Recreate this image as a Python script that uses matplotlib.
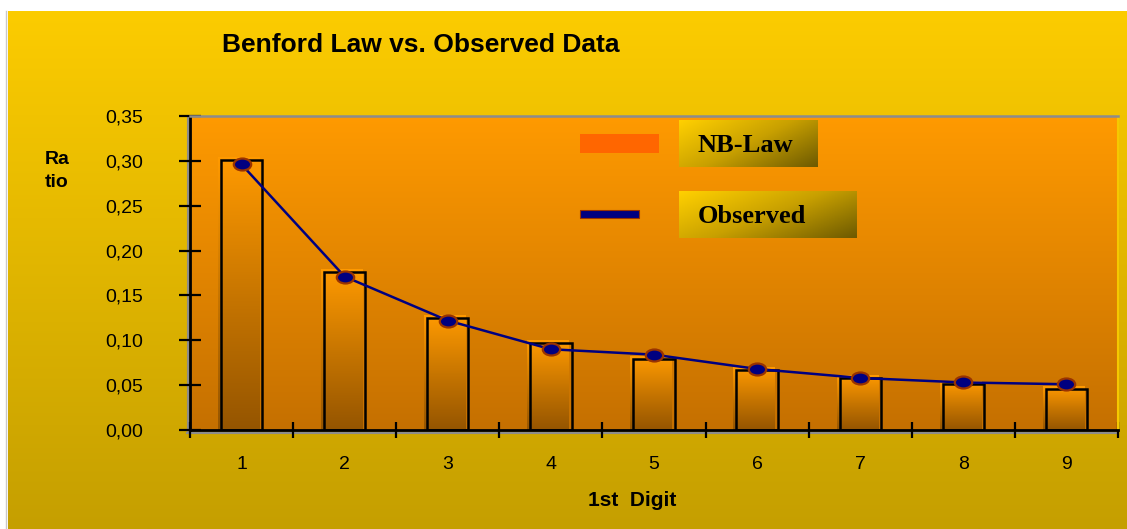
import numpy as np
import matplotlib
matplotlib.use('Agg')
import matplotlib.pyplot as plt
from matplotlib.colors import LinearSegmentedColormap
from matplotlib.patches import Rectangle
from matplotlib.path import Path
from matplotlib.ticker import FuncFormatter, FixedLocator

# data
digits = ['1', '2', '3', '4', '5', '6', '7', '8', '9']
nb_law = [0.301, 0.176, 0.125, 0.097, 0.079, 0.067, 0.058, 0.051, 0.046]
observed = [0.296, 0.171, 0.122, 0.090, 0.084, 0.068, 0.058, 0.053, 0.051]
y_ticks = [0.0, 0.05, 0.10, 0.15, 0.20, 0.25, 0.30, 0.35]

W, H = 1127, 529
fig = plt.figure(figsize=(W / 100, H / 100), dpi=100, facecolor='white')

# yellow gradient background of the chart area
bg = fig.add_axes([0, 0, 1, 1], zorder=0)
bg.set_xlim(0, W)
bg.set_ylim(H, 0)
bg.axis('off')
cm_bg = LinearSegmentedColormap.from_list('bg', ['#fccc00', '#c59f00'])
bg.imshow(np.linspace(0, 1, 256).reshape(-1, 1), cmap=cm_bg, aspect='auto',
          origin='upper', extent=[8, W, H, 11], zorder=0)
bg.plot([6, 6], [11, H], color='#c8c8c8', lw=1)
# grey shadow along the axis lines
bg.plot([187.5, 187.5], [116, 432], color='#8c8c8c', lw=1.5)
bg.plot([187, 1118], [432.5, 432.5], color='#8c8c8c', lw=1.5)

# plot area
ax = fig.add_axes([190 / W, 1 - 430 / H, 928 / W, 314 / H], zorder=2)
ax.set_facecolor('none')
cm_plot = LinearSegmentedColormap.from_list('plot', ['#c57000', '#ff9a00'])
ax.imshow(np.linspace(0, 1, 256).reshape(-1, 1), cmap=cm_plot, aspect='auto',
          origin='lower', extent=[-0.5, 8.5, 0, 0.35], zorder=0)

cm_bar = LinearSegmentedColormap.from_list('bar', ['#955500', '#c87600', '#ff9a00'])
xs = np.arange(len(digits))
bw = 0.4
dx, dy = 0.03, 0.003
for x, h in zip(xs, nb_law):
    ax.imshow(np.linspace(0, 1, 128).reshape(-1, 1), cmap=cm_bar, aspect='auto',
              origin='lower', extent=[x - bw / 2 - dx, x + bw / 2 - dx, 0, h + dy],
              zorder=1)
    ax.add_patch(Rectangle((x - bw / 2, 0), bw, h, fill=False,
                           edgecolor='black', lw=1.8, zorder=2))

circ = Path.unit_circle()
ellipse = Path(circ.vertices * np.array([1.45, 1.0]), circ.codes)
ax.plot(xs, observed, color='#000080', lw=1.8, marker=ellipse, markersize=12.5,
        markerfacecolor='#000080', markeredgecolor='#993300',
        markeredgewidth=1.6, zorder=4, clip_on=False)

ax.set_xlim(-0.5, 8.5)
ax.set_ylim(0, 0.35)
ax.yaxis.set_major_locator(FixedLocator(y_ticks))
ax.yaxis.set_major_formatter(FuncFormatter(lambda v, p: f'{v:.2f}'.replace('.', ',')))
ax.xaxis.set_major_locator(FixedLocator(xs))
ax.set_xticklabels(digits)
ax.xaxis.set_minor_locator(FixedLocator(np.arange(-0.5, 9, 1.0)))
ax.tick_params(axis='y', direction='inout', length=16, width=1.6, pad=26,
               labelsize=14)
ax.tick_params(axis='x', which='major', length=0, pad=19, labelsize=14)
ax.tick_params(axis='x', which='minor', direction='inout', length=11.5,
               width=1.6)
for lab in ax.get_xticklabels() + ax.get_yticklabels():
    lab.set_fontfamily('Liberation Sans')

ax.spines['left'].set_linewidth(2)
ax.spines['bottom'].set_linewidth(2)
ax.spines['top'].set_color('#8c8c8c')
ax.spines['top'].set_linewidth(1.8)
ax.spines['right'].set_color('#f5c800')
ax.spines['right'].set_linewidth(1.5)

# titles
fig.text(222 / W, 1 - 45 / H, 'Benford Law vs. Observed Data', fontsize=19,
         fontweight='bold', family='Liberation Sans', ha='left', va='center')
fig.text(57 / W, 1 - 171 / H, 'Ra\ntio', fontsize=14, fontweight='bold',
         family='Liberation Sans', ha='center', va='center', linespacing=1.45)
fig.text(632 / W, 1 - 500 / H, '1st  Digit', fontsize=15, fontweight='bold',
         family='Liberation Sans', ha='center', va='center')

# legend drawn in pixel coordinates
lg = fig.add_axes([0, 0, 1, 1], zorder=5)
lg.set_xlim(0, W)
lg.set_ylim(H, 0)
lg.axis('off')
lg.patch.set_visible(False)
lg.add_patch(Rectangle((580, 134), 79, 19, facecolor='#ff6600', edgecolor='none'))
lg.add_patch(Rectangle((580, 210), 59, 8, facecolor='#000080',
                       edgecolor='#993300', lw=0.8))
gy, gx = np.mgrid[0:1:64j, 0:1:64j]
cm_box = LinearSegmentedColormap.from_list('box', ['#ffd000', '#c8a000', '#6e5a00'])
for (x0, y0, w, h), label in [((679, 120, 139, 47), 'NB-Law'),
                             ((679, 191, 178, 47), 'Observed')]:
    lg.imshow((gx * 0.6 + gy * 0.4), cmap=cm_box, aspect='auto', origin='upper',
              extent=[x0, x0 + w, y0 + h, y0])
    lg.text(698, y0 + h / 2 + 2, label, fontsize=19, fontweight='bold',
            family='Liberation Serif', ha='left', va='center')
lg.set_xlim(0, W)
lg.set_ylim(H, 0)

fig.savefig('out.png', dpi=100)
